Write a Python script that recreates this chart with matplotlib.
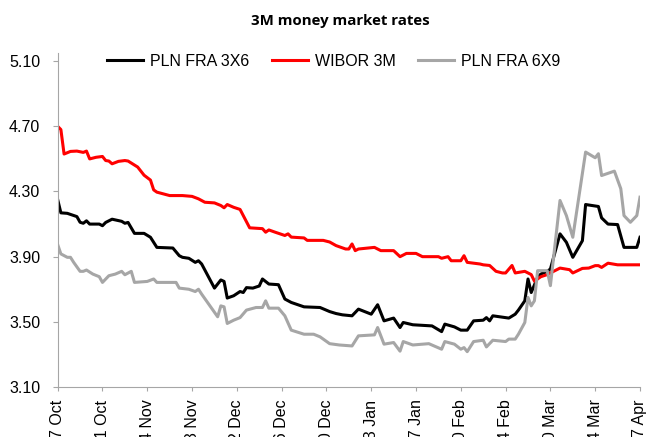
import matplotlib
matplotlib.use("Agg")
import matplotlib.pyplot as plt
import matplotlib.dates as mdates
import pandas as pd

plt.rcParams['font.family'] = ['Liberation Sans', 'DejaVu Sans']

start = pd.Timestamp('2013-10-07')

# days since 7 Oct, value (%)
wibor_day = [0, 1, 2, 4, 6, 8, 9, 10, 12, 14, 15, 16, 17, 19, 21, 22, 25, 27, 29, 30,
             31, 35, 39, 42, 44, 46, 49, 51, 52, 53, 55, 57, 60, 64, 65, 66, 68, 71, 72, 73,
             77, 78, 83, 85, 87, 90, 91, 92, 93, 94, 99, 101, 105, 107, 109, 112, 114, 119, 120, 122,
             123, 126, 127, 128, 132, 133, 135, 137, 139, 140, 142, 143, 146, 148, 149, 151, 153, 155, 157, 160,
             161, 164, 166, 168, 169, 170, 172, 175, 182]
wibor_val = [4.70, 4.68, 4.53, 4.546, 4.548, 4.54, 4.548, 4.50, 4.51, 4.515, 4.49, 4.487, 4.47, 4.485, 4.49, 4.487, 4.45, 4.40, 4.37, 4.31,
             4.296, 4.275, 4.275, 4.27, 4.255, 4.234, 4.23, 4.214, 4.20, 4.22, 4.203, 4.19, 4.077, 4.072, 4.05, 4.064, 4.05, 4.03, 4.04, 4.02,
             4.015, 4.00, 4.00, 3.99, 3.968, 3.947, 3.947, 3.978, 3.937, 3.947, 3.957, 3.937, 3.937, 3.90, 3.92, 3.92, 3.90, 3.90, 3.89, 3.90,
             3.875, 3.875, 3.906, 3.865, 3.855, 3.85, 3.846, 3.81, 3.80, 3.80, 3.846, 3.80, 3.81, 3.79, 3.75, 3.777, 3.79, 3.81, 3.83, 3.82,
             3.80, 3.828, 3.83, 3.845, 3.845, 3.834, 3.86, 3.85, 3.85]

fra36_day = [0, 1, 3, 6, 7, 8, 9, 10, 13, 14, 15, 17, 20, 21, 22, 24, 27, 29, 31, 36,
             38, 39, 41, 43, 44, 45, 49, 51, 52, 53, 55, 57, 58, 59, 61, 63, 64, 66, 69, 71,
             73, 77, 82, 85, 87, 89, 92, 94, 98, 100, 102, 105, 107, 108, 111, 117, 120, 121, 124, 126,
             128, 130, 133, 134, 135, 136, 141, 143, 144, 146, 147, 148, 150, 151, 153, 154, 157, 159, 161, 164,
             165, 169, 170, 172, 175, 177, 181, 182]
fra36_val = [4.25, 4.169, 4.166, 4.146, 4.111, 4.105, 4.12, 4.10, 4.10, 4.09, 4.11, 4.13, 4.117, 4.105, 4.11, 4.043, 4.043, 4.019, 3.957, 3.953,
             3.906, 3.896, 3.89, 3.865, 3.875, 3.855, 3.707, 3.757, 3.748, 3.646, 3.66, 3.686, 3.68, 3.71, 3.707, 3.72, 3.763, 3.732, 3.728, 3.64,
             3.619, 3.592, 3.588, 3.563, 3.551, 3.543, 3.537, 3.578, 3.547, 3.605, 3.506, 3.523, 3.465, 3.496, 3.482, 3.475, 3.44, 3.486, 3.469, 3.449,
             3.449, 3.506, 3.51, 3.526, 3.506, 3.537, 3.523, 3.547, 3.572, 3.629, 3.763, 3.68, 3.773, 3.793, 3.81, 3.824, 4.04, 3.988, 3.896, 3.998,
             4.22, 4.208, 4.138, 4.10, 4.097, 3.957, 3.957, 4.019]

fra69_day = [0, 1, 3, 4, 5, 7, 8, 9, 11, 13, 14, 16, 18, 20, 21, 23, 24, 28, 30, 31,
             37, 38, 41, 43, 44, 45, 50, 51, 52, 53, 55, 57, 59, 62, 64, 65, 66, 69, 71, 73,
             77, 80, 82, 85, 88, 92, 94, 99, 100, 102, 105, 107, 108, 111, 116, 120, 121, 124, 126, 127,
             128, 130, 133, 134, 136, 140, 141, 143, 144, 146, 147, 148, 149, 150, 153, 154, 157, 159, 161, 165,
             168, 169, 170, 174, 176, 177, 179, 181, 182]
fra69_val = [3.974, 3.917, 3.896, 3.896, 3.865, 3.81, 3.81, 3.818, 3.793, 3.777, 3.742, 3.783, 3.793, 3.81, 3.789, 3.81, 3.742, 3.748, 3.763, 3.742,
             3.742, 3.707, 3.70, 3.686, 3.70, 3.67, 3.531, 3.598, 3.592, 3.49, 3.51, 3.526, 3.572, 3.588, 3.588, 3.629, 3.584, 3.584, 3.537, 3.449,
             3.424, 3.424, 3.408, 3.366, 3.358, 3.352, 3.414, 3.42, 3.465, 3.363, 3.373, 3.32, 3.379, 3.358, 3.366, 3.332, 3.379, 3.363, 3.332, 3.342,
             3.317, 3.379, 3.387, 3.346, 3.387, 3.379, 3.394, 3.394, 3.424, 3.496, 3.65, 3.598, 3.629, 3.814, 3.814, 3.722, 4.245, 4.152, 4.019, 4.542,
             4.507, 4.532, 4.398, 4.425, 4.317, 4.152, 4.111, 4.152, 4.265]

yticks = [3.10, 3.50, 3.90, 4.30, 4.70, 5.10]


def to_dates(days):
    return [start + pd.Timedelta(days=d) for d in days]


fig = plt.figure(figsize=(6.63, 4.37), dpi=100)
ax = fig.add_axes([0.087, 0.1144, 0.8783, 0.7643])

ax.plot(to_dates(fra36_day), fra36_val, color='black', lw=2.2, label='PLN FRA 3X6')
ax.plot(to_dates(wibor_day), wibor_val, color='#ff0000', lw=2.2, label='WIBOR 3M')
ax.plot(to_dates(fra69_day), fra69_val, color='#a6a6a6', lw=2.2, label='PLN FRA 6X9')

ax.set_xlim(start, start + pd.Timedelta(days=182))
ax.set_ylim(3.10, 5.15)
ax.set_yticks(yticks)
ax.yaxis.set_major_formatter(plt.FormatStrFormatter('%.2f'))
ax.set_xticks(pd.date_range(start, periods=14, freq='14D'))
ax.xaxis.set_major_formatter(mdates.DateFormatter('%-d %b'))
plt.setp(ax.get_xticklabels(), rotation=90)

for s in ['top', 'right']:
    ax.spines[s].set_visible(False)
for s in ['left', 'bottom']:
    ax.spines[s].set_color('#a6a6a6')
ax.tick_params(colors='#a6a6a6', labelcolor='black', labelsize=11.5)
ax.tick_params(axis='y', length=3.5, pad=9)
ax.tick_params(axis='x', length=3, pad=6)

ax.legend(loc='center left', bbox_to_anchor=(0.060, 0.976), ncol=3, frameon=False,
          fontsize=11.5, handlelength=2.25, handletextpad=0.45, columnspacing=1.4)

fig.text(0.513, 0.952, '3M money market rates', ha='center', va='center',
         fontsize=10.8, fontweight='bold', family='Open Sans')

fig.savefig('out.png', dpi=100)
